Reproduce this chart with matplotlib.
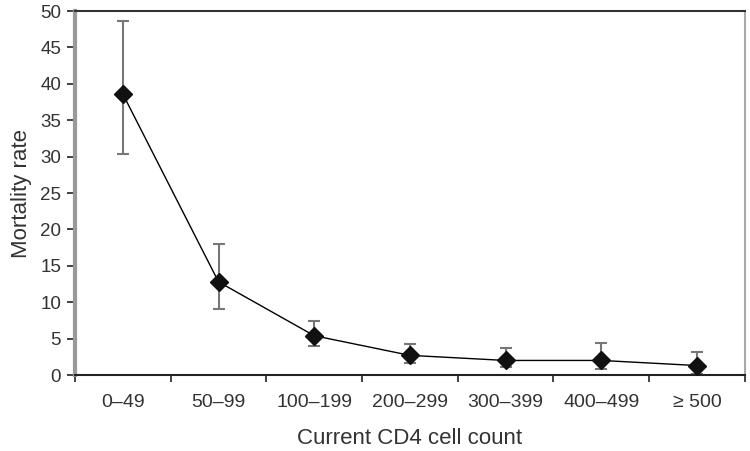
import matplotlib
matplotlib.use("Agg")
from matplotlib import pyplot as pl
import numpy as np

categories = ["0\u201349", "50\u201399", "100\u2013199", "200\u2013299",
              "300\u2013399", "400\u2013499", "\u2265 500"]
rate = [38.6, 12.8, 5.4, 2.7, 2.0, 2.0, 1.3]
upper = [48.7, 18.0, 7.4, 4.2, 3.7, 4.4, 3.2]
lower = [30.3, 9.0, 4.0, 1.6, 1.1, 0.8, 0.2]

pl.rcParams['font.family'] = ['Liberation Sans', 'DejaVu Sans']

x = np.arange(len(categories))
rate = np.array(rate)
yerr = [rate - np.array(lower), np.array(upper) - rate]

fig = pl.figure(figsize=(7.5, 4.51), dpi=100)
ax = fig.add_axes([0.1, 0.1685, 0.893, 0.807])

ax.errorbar(x, rate, yerr=yerr, fmt='none', ecolor='#777777', elinewidth=1.5,
            capsize=4, capthick=1.5, zorder=2)
ax.plot(x, rate, color='black', lw=1.0, marker='D', markersize=9.5,
        markerfacecolor='#111111', markeredgecolor='#111111', zorder=3)

ax.set_xlim(-0.5, len(categories) - 0.5)
ax.set_ylim(0, 50)
ax.set_yticks(np.arange(0, 51, 5))
ax.set_xticks(x)
ax.set_xticklabels(categories)
ax.set_xticks(np.arange(-0.5, len(categories)), minor=True)
ax.tick_params(axis='x', which='major', length=0, pad=14, labelsize=14,
               labelcolor='#333333')
ax.tick_params(axis='x', which='minor', length=5, width=1.2, color='#222222')
ax.tick_params(axis='y', length=6, width=1.2, color='#222222', labelsize=13.5,
               labelcolor='#333333', pad=4)

ax.spines['left'].set_color('#999999')
ax.spines['left'].set_linewidth(3)
ax.spines['right'].set_color('#aaaaaa')
ax.spines['right'].set_linewidth(1.5)
ax.spines['top'].set_color('#333333')
ax.spines['top'].set_linewidth(1.5)
ax.spines['bottom'].set_color('#222222')
ax.spines['bottom'].set_linewidth(1.5)

ax.set_xlabel("Current CD4 cell count", fontsize=16, color='#333333', labelpad=12)
ax.set_ylabel("Mortality rate", fontsize=16, color='#333333', labelpad=6)

fig.savefig("out.png", dpi=100)
